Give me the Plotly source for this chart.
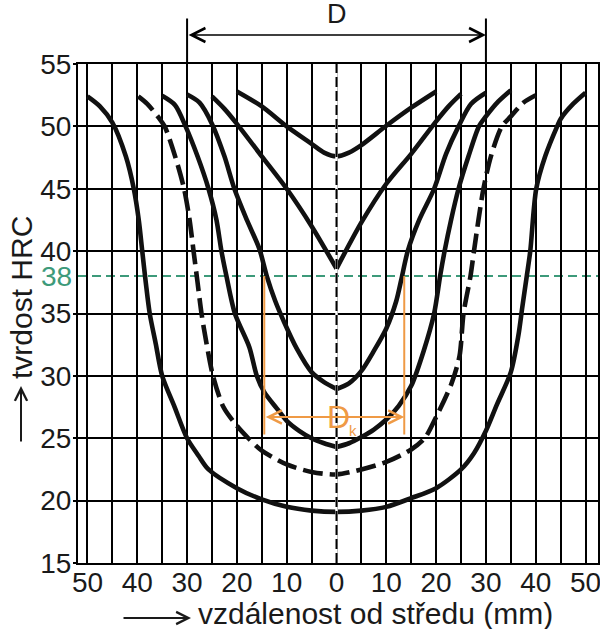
import plotly.graph_objects as go

# distance from the centre (mm) and hardness (HRC)
a_x = [-20, -15, -10, -5, -2.5, 0, 2.5, 5, 10, 15, 20]
a_y = [52.8, 51.6, 50.0, 48.6, 47.9, 47.6, 47.9, 48.5, 50.05, 51.5, 52.8]

b_left_x = [-25, -22.5, -20, -15, -10, -5, 0]
b_left_y = [52.4, 51.4, 50.2, 47.6, 45.0, 42.0, 38.6]
b_right_x = [0, 5, 10, 15, 20, 22.5, 25]
b_right_y = [38.6, 42.3, 45.4, 47.8, 50.4, 51.6, 52.6]

c_left_x = [-30, -27.5, -25, -22.5, -20.5, -18, -15.5, -14, -12.3, -10.5, -8, -5, -2.5, 0]
c_left_y = [52.55, 51.9, 50.2, 47.6, 45.0, 42.5, 40.2, 38.0, 36.0, 34.3, 32.2, 30.3, 29.5, 28.95]
c_right_x = [0, 2.5, 5, 7.5, 10, 12, 13, 14.3, 16.6, 19.6, 22, 24.5, 27, 30]
c_right_y = [28.95, 29.4, 30.4, 32.0, 33.8, 36.0, 37.7, 40.0, 42.5, 45.0, 47.8, 50.0, 51.8, 52.7]

d_left_x = [-35, -32.4, -30.3, -27.9, -25.7, -24.1, -23.1, -22.1, -20.4, -17.5, -16, -14.5,
            -12, -10, -7.5, -5, -2.5, 0]
d_left_y = [52.45, 51.7, 50.0, 47.6, 45.0, 42.5, 40.0, 38.0, 35.0, 32.3, 30.0, 28.7,
            27.4, 26.4, 25.6, 25.0, 24.6, 24.3]
d_right_x = [0, 2.5, 5, 7.5, 10, 12.5, 15, 17.5, 19.6, 20.8, 21.7, 23, 24.5, 26.5, 28.6,
             30, 32.5, 35]
d_right_y = [24.3, 24.6, 25.1, 25.7, 26.5, 27.6, 29.2, 32.0, 35.0, 38.0, 40.0, 42.5, 45.0,
             47.6, 50.0, 50.8, 52.0, 52.9]

e_x = [-39.8, -38, -35.7, -34.5, -32.4, -30.6, -29.5, -28.7, -27.9, -27.1, -26.1, -24.8,
       -22.7, -20, -17.7, -15, -10, -5, 0, 5, 10, 15, 17.7, 20, 23.1, 24.7, 25.5, 26.9,
       27.6, 28.5, 29.5, 31, 33.2, 35, 37.5, 40]
e_y = [52.4, 51.8, 50.7, 50.0, 47.6, 45.0, 42.5, 40.0, 37.5, 35.0, 32.6, 30.0,
       27.5, 26.0, 25.0, 24.0, 22.9, 22.3, 22.1, 22.5, 23.1, 24.1, 25.0, 26.7, 29.4, 31.6,
       35.0, 38.0, 40.0, 42.5, 45.0, 47.6, 50.0, 50.8, 51.9, 52.5]

f_x = [-50, -47.5, -45, -42.3, -40.7, -39.7, -39.0, -38.3, -37.5, -36.3, -35, -32.5, -30,
       -27.7, -25.7, -20, -15, -10, -5, 0, 5, 10, 15, 20, 25, 27.6, 30, 32.2, 35, 36.5, 37.3,
       38.2, 38.9, 40.1, 41.9, 44.3, 45, 47.5, 50]
f_y = [52.4, 51.6, 50.3, 47.6, 45.0, 42.5, 40.0, 37.5, 35.0, 32.6, 30.0, 27.5, 25.0,
       23.6, 22.5, 21.0, 20.1, 19.5, 19.2, 19.1, 19.2, 19.5, 20.2, 21.0, 22.5, 23.8, 25.6,
       27.7, 30.3, 33.2, 35.5, 38.0, 40.0, 45.0, 47.6, 50.0, 50.6, 51.8, 52.7]

x_ticks = list(range(-50, 51, 5))
x_labels = [str(abs(v)) if v % 10 == 0 else "" for v in x_ticks]
y_ticks = list(range(15, 56, 5))
y_labels = [str(v) for v in y_ticks]

crit_hrc = 38          # critical hardness line
dk_left, dk_right = -14.5, 13.6
dk_bottom, dk_arrow_y = 25.3, 26.7
d_half = 30

CURVE = "#111111"
GREEN = "#3d9a7a"
ORANGE = "#ef9a45"
FONT = "Liberation Sans, Arial, sans-serif"

L, T, W, H = 78, 64, 520, 499   # plot area in pixels


def px_x(p):
    return (p - L) / W


def px_y(p):
    return (T + H - p) / H


fig = go.Figure()

solid = [
    (a_x, a_y),
    (b_left_x, b_left_y), (b_right_x, b_right_y),
    (c_left_x, c_left_y), (c_right_x, c_right_y),
    (d_left_x, d_left_y), (d_right_x, d_right_y),
    (f_x, f_y),
]
for xs, ys in solid:
    fig.add_trace(go.Scatter(x=xs, y=ys, mode="lines",
                             line=dict(color=CURVE, width=4.6, shape="spline", smoothing=0.8)))

fig.add_trace(go.Scatter(x=e_x, y=e_y, mode="lines",
                         line=dict(color=CURVE, width=4.6, shape="spline", smoothing=0.8,
                                   dash="20px,7px")))

shapes = [
    # critical hardness
    dict(type="line", xref="paper", x0=0, x1=1, yref="y", y0=crit_hrc, y1=crit_hrc,
         line=dict(color=GREEN, width=2, dash="9px,5px"), layer="between"),
    # centre line
    dict(type="line", xref="x", x0=0, x1=0, yref="y", y0=15, y1=55,
         line=dict(color="white", width=2.5), layer="above"),
    dict(type="line", xref="x", x0=0, x1=0, yref="y", y0=15, y1=55,
         line=dict(color="black", width=2, dash="10px,4px"), layer="above"),
    # Dk bracket
    dict(type="line", xref="x", x0=dk_left, x1=dk_left, yref="y", y0=dk_bottom, y1=crit_hrc,
         line=dict(color=ORANGE, width=2), layer="above"),
    dict(type="line", xref="x", x0=dk_right, x1=dk_right, yref="y", y0=dk_bottom, y1=crit_hrc,
         line=dict(color=ORANGE, width=2), layer="above"),
]

annotations = [
    # axis titles with arrows
    dict(text="tvrdost HRC", xref="paper", yref="paper", x=px_x(21), y=px_y(298),
         xanchor="center", yanchor="middle", textangle=-90, showarrow=False,
         font=dict(size=30)),
    dict(text="", xref="paper", yref="paper", x=px_x(21), y=px_y(386), ax=0, ay=57,
         showarrow=True, arrowhead=5, arrowwidth=2, arrowsize=1.2, arrowcolor="#1a1a1a"),
    dict(text="vzdálenost od středu (mm)", xref="paper", yref="paper", x=px_x(375),
         y=px_y(613), xanchor="center", yanchor="middle", borderpad=0, showarrow=False,
         font=dict(size=30)),
    dict(text="", xref="paper", yref="paper", x=px_x(191), y=px_y(618), ax=-69, ay=0,
         showarrow=True, arrowhead=5, arrowwidth=2, arrowsize=1.2, arrowcolor="#1a1a1a"),
    # green 38 label
    dict(text="38", xref="paper", yref="y", x=0, y=crit_hrc, xanchor="right",
         yanchor="middle", xshift=-4, showarrow=False, font=dict(size=28, color=GREEN)),
    # D bracket on top
    dict(text="", xref="x", yref="paper", x=-d_half, y=1, axref="x", ax=-d_half,
         ayref="pixel", ay=-47, showarrow=True, arrowhead=0, arrowwidth=2, arrowcolor="black"),
    dict(text="", xref="x", yref="paper", x=d_half, y=1, axref="x", ax=d_half,
         ayref="pixel", ay=-47, showarrow=True, arrowhead=0, arrowwidth=2, arrowcolor="black"),
    dict(text="", xref="x", yref="paper", x=d_half, y=px_y(35), axref="x", ax=-d_half,
         ayref="pixel", ay=0, showarrow=True, arrowside="end+start", arrowhead=5,
         startarrowhead=5, arrowwidth=1.6, arrowsize=1.7, startarrowsize=1.7,
         arrowcolor="black"),
    dict(text="D", xref="x", yref="paper", x=0, y=px_y(14), xanchor="center",
         yanchor="middle", borderpad=0, showarrow=False, font=dict(size=27)),
    # Dk arrow and label
    dict(text="", xref="x", yref="y", x=dk_right, y=dk_arrow_y, axref="x", ax=dk_left,
         ayref="y", ay=dk_arrow_y, showarrow=True, arrowside="end+start", arrowhead=5,
         startarrowhead=5, arrowwidth=2, arrowsize=1.3, startarrowsize=1.3, arrowcolor=ORANGE),
    dict(text="D", xref="x", yref="y", x=0.3, y=dk_arrow_y, showarrow=False,
         font=dict(size=32, color=ORANGE)),
    dict(text="k", xref="x", yref="y", x=3.4, y=25.6, showarrow=False,
         font=dict(size=15, color=ORANGE)),
]

fig.update_layout(
    template="none",
    width=600,
    height=629,
    margin=dict(l=L, r=600 - L - W, t=T, b=629 - T - H),
    plot_bgcolor="white",
    paper_bgcolor="white",
    showlegend=False,
    font=dict(family=FONT, size=28, color="#1a1a1a"),
    shapes=shapes,
    annotations=annotations,
)

fig.update_xaxes(
    range=[-51.9, 52.5], tickmode="array", tickvals=x_ticks, ticktext=x_labels,
    showgrid=True, gridcolor="black", gridwidth=2, zeroline=False,
    showline=True, linecolor="black", linewidth=2, mirror=True,
    ticks="", tickfont=dict(size=28), ticklabelstandoff=-7,
    ticklabeloverflow="allow", automargin=False,
)
fig.update_yaxes(
    range=[15, 55], tickmode="array", tickvals=y_ticks, ticktext=y_labels,
    showgrid=True, gridcolor="black", gridwidth=2, zeroline=False,
    showline=True, linecolor="black", linewidth=2, mirror=True,
    ticks="outside", ticklen=3, tickwidth=2, tickcolor="black",
    tickfont=dict(size=28), ticklabelstandoff=-4, automargin=False,
)

# the page body has a default 8px margin; drop it so the chart sits at the corner
fig.write_html("out.html", config={"displayModeBar": False},
               post_script="document.body.style.margin='0';")
